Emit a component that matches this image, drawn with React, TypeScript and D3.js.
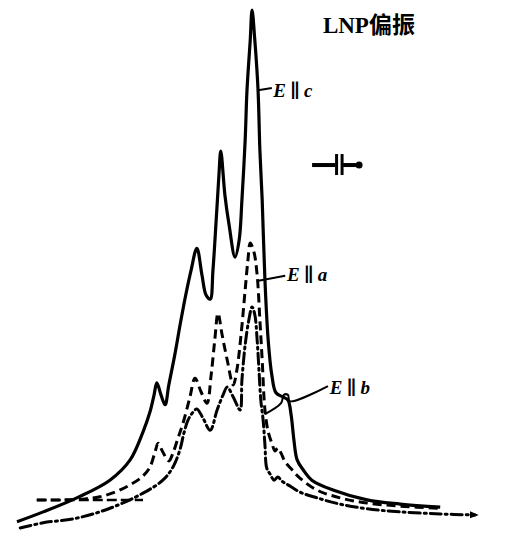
import * as d3 from "d3";
import { useEffect, useRef } from "react";

const W = 509;
const H = 536;

// 三条偏振吸收曲线, [相对频率, 相对强度]
const curveC: [number, number][] = [
  [0, 1.2], [5.7, 3.1], [13.0, 5.8], [20.2, 9.2], [24.6, 13.1], [27.4, 18.5],
  [28.9, 22.3], [29.8, 25.6], [30.4, 27.9], [31.3, 25.6], [32.2, 23.7], [33.0, 27.5],
  [34.3, 33.3], [35.4, 38.8], [36.5, 44.0], [37.8, 49.4], [39.1, 53.8], [40.2, 48.7],
  [41.1, 44.8], [42.0, 44.0], [42.6, 49.6], [43.3, 59.2], [43.9, 67.9], [44.3, 72.5],
  [45.2, 64.0], [46.1, 58.3], [47.4, 52.1], [48.3, 55.4], [48.9, 63.1], [49.6, 74.6],
  [50.0, 84.2], [50.7, 93.8], [51.1, 99.6], [51.7, 93.8], [52.4, 84.2], [52.8, 72.7],
  [53.3, 63.1], [53.9, 47.7], [54.6, 36.2], [55.4, 29.4], [56.3, 26.0], [57.8, 25.2],
  [58.9, 24.6], [59.6, 21.7], [60.2, 16.9], [60.9, 13.1], [62.2, 11.2], [64.1, 9.2],
  [68.7, 7.3], [76.1, 5.4], [83.3, 4.6], [92.0, 4.0],
];

const curveA: [number, number][] = [
  [4.3, 5.4], [9.3, 5.4], [14.8, 5.6], [18.0, 6.0], [21.3, 6.9], [24.6, 8.3],
  [27.4, 10.0], [28.9, 11.7], [30.0, 14.6], [30.7, 16.3], [31.7, 14.6], [33.0, 12.9],
  [33.9, 14.4], [35.0, 17.3], [36.1, 20.2], [37.6, 25.2], [38.7, 28.8], [40.0, 26.2],
  [41.3, 24.0], [42.2, 29.4], [43.0, 36.2], [43.7, 41.3], [44.6, 37.1], [45.7, 32.3],
  [47.0, 27.5], [47.8, 30.4], [48.7, 37.1], [49.6, 45.8], [50.2, 51.5], [50.7, 54.8],
  [51.5, 53.1], [52.2, 48.7], [52.8, 40.0], [53.3, 32.3], [53.9, 22.7], [54.6, 18.5],
  [55.4, 16.3], [56.1, 14.8], [56.7, 15.4], [57.4, 14.4], [58.3, 12.7], [59.8, 11.2],
  [61.5, 9.6], [65.2, 7.3], [70.2, 5.8], [76.1, 4.8], [83.3, 4.2], [92.0, 3.8],
];

const curveB: [number, number][] = [
  [0.7, 0], [5.7, 1.0], [13.0, 1.9], [20.2, 3.8], [27.4, 6.7], [31.7, 9.2],
  [33.9, 11.7], [35.4, 15.0], [36.3, 18.3], [37.2, 20.8], [38.3, 22.3], [39.1, 22.9],
  [40.4, 21.2], [42.0, 18.8], [43.5, 22.7], [44.8, 25.6], [45.7, 27.1], [47.0, 25.2],
  [48.5, 22.7], [48.9, 28.5], [49.6, 35.2], [50.4, 40.0], [51.1, 42.5], [51.7, 41.0],
  [52.2, 36.2], [52.6, 30.4], [53.0, 24.6], [53.5, 20.8], [53.9, 16.0], [54.3, 11.5],
  [55.0, 10.4], [55.9, 9.2], [56.7, 9.8], [57.6, 9.0], [59.3, 8.1], [61.5, 6.9],
  [65.2, 5.8], [70.2, 4.6], [76.1, 3.7], [83.3, 3.1], [92.0, 2.7], [99.6, 2.5],
];

// 左侧基线
const baseA: [number, number][] = [[4.3, 5.4], [27.4, 5.4]];

// 标注: 文字与引线
const labels = [
  { text: "E∥c", x: 55.7, y: 82.9 },
  { text: "E∥a", x: 58.7, y: 47.5 },
  { text: "E∥b", x: 68.0, y: 25.8 },
];
const leaders: [number, number][][] = [
  [[52.4, 84.2], [55.4, 84.6]],
  [[52.2, 47.5], [58.3, 48.5]],
  [[53.9, 21.9], [57.4, 24.0], [58.0, 25.6], [58.9, 25.6], [59.3, 24.4], [67.6, 27.3]],
];
const title = { text: "LNP偏振", x: 66.5, y: 95.2 };
const symbolPos = { x: 69.8, y: 69.8 };

export default function App() {
  const ref = useRef<HTMLDivElement>(null);

  useEffect(() => {
    document.body.style.margin = "0";
    const root = d3.select(ref.current);
    root.selectAll("svg").remove();

    const svg = root
      .append("svg")
      .attr("width", W)
      .attr("height", H)
      .attr("viewBox", [0, 0, W, H])
      .style("display", "block")
      .style("background", "#fff");

    const x = d3.scaleLinear().domain([0, 100]).range([17, 477]);
    const y = d3.scaleLinear().domain([0, 100]).range([528, 8]);

    const line = d3
      .line<[number, number]>()
      .x((d) => x(d[0]))
      .y((d) => y(d[1]))
      .curve(d3.curveCatmullRom.alpha(0.5));
    const straight = d3
      .line<[number, number]>()
      .x((d) => x(d[0]))
      .y((d) => y(d[1]));

    svg
      .append("defs")
      .append("marker")
      .attr("id", "arr")
      .attr("viewBox", "0 0 10 10")
      .attr("refX", 6)
      .attr("refY", 5)
      .attr("markerWidth", 3)
      .attr("markerHeight", 3)
      .attr("orient", "auto")
      .append("path")
      .attr("d", "M0,1 L10,5 L0,9 Z")
      .attr("fill", "#000");

    const g = svg.append("g").attr("fill", "none").attr("stroke", "#000");

    g.append("path")
      .attr("d", straight(baseA))
      .attr("stroke-width", 2.5)
      .attr("stroke-dasharray", "10,4");

    g.append("path")
      .attr("d", line(curveB))
      .attr("stroke-width", 3)
      .attr("stroke-linecap", "round")
      .attr("stroke-dasharray", "11,4,2,4")
      .attr("marker-end", "url(#arr)");

    g.append("path")
      .attr("d", line(curveA))
      .attr("stroke-width", 3)
      .attr("stroke-dasharray", "9,5");

    g.append("path")
      .attr("d", line(curveC))
      .attr("stroke-width", 3.2)
      .attr("stroke-linejoin", "round");

    // 引线
    g.selectAll("path.leader")
      .data(leaders)
      .join("path")
      .attr("class", "leader")
      .attr("d", (d) => line(d))
      .attr("stroke-width", 2);

    // 电容符号
    const sx = x(symbolPos.x);
    const sy = y(symbolPos.y);
    const sym = svg.append("g").attr("stroke", "#000").attr("fill", "none");
    sym.append("line").attr("x1", sx - 26).attr("x2", sx - 3).attr("y1", sy).attr("y2", sy).attr("stroke-width", 4);
    sym.append("line").attr("x1", sx - 1.5).attr("x2", sx - 1.5).attr("y1", sy - 11).attr("y2", sy + 10).attr("stroke-width", 3);
    sym.append("line").attr("x1", sx + 4).attr("x2", sx + 4).attr("y1", sy - 11).attr("y2", sy + 10).attr("stroke-width", 3);
    sym.append("line").attr("x1", sx + 5).attr("x2", sx + 21).attr("y1", sy).attr("y2", sy).attr("stroke-width", 4);
    sym.append("circle").attr("cx", sx + 21).attr("cy", sy).attr("r", 3.5).attr("fill", "#000").attr("stroke", "none");

    svg
      .append("text")
      .attr("x", x(title.x))
      .attr("y", y(title.y))
      .text(title.text)
      .style("font-family", "'Liberation Serif', 'Noto Sans CJK SC', serif")
      .style("font-weight", "bold")
      .style("font-size", "23px");

    svg
      .append("g")
      .selectAll("text")
      .data(labels)
      .join("text")
      .attr("x", (d) => x(d.x))
      .attr("y", (d) => y(d.y))
      .text((d) => d.text)
      .style("font-family", "'Liberation Serif', 'DejaVu Serif', serif")
      .style("font-weight", "bold")
      .style("font-style", "italic")
      .style("font-size", "19px")
      .style("letter-spacing", "4px");
  }, []);

  return <div ref={ref} />;
}
